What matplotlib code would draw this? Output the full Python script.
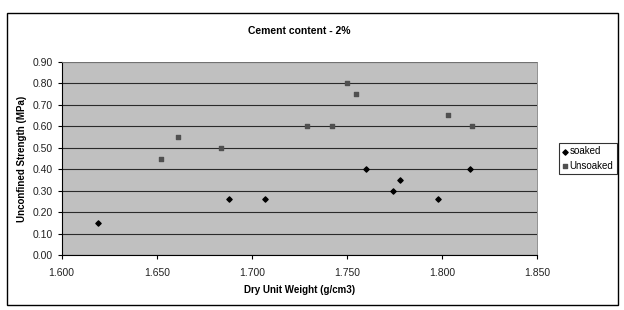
import matplotlib
matplotlib.use("Agg")
import matplotlib.pyplot as plt
from matplotlib.patches import Rectangle
from matplotlib.ticker import FormatStrFormatter

plt.rcParams['font.family'] = ['Liberation Sans', 'DejaVu Sans']

soaked_x = [1.619, 1.688, 1.707, 1.760, 1.778, 1.774, 1.798, 1.815]
soaked_y = [0.15, 0.26, 0.26, 0.40, 0.35, 0.30, 0.26, 0.40]
unsoaked_x = [1.652, 1.661, 1.684, 1.729, 1.742, 1.750, 1.755, 1.803, 1.816]
unsoaked_y = [0.45, 0.55, 0.50, 0.60, 0.60, 0.80, 0.75, 0.65, 0.60]
x_ticks = [1.600, 1.650, 1.700, 1.750, 1.800, 1.850]
y_ticks = [0.00, 0.10, 0.20, 0.30, 0.40, 0.50, 0.60, 0.70, 0.80, 0.90]

fig = plt.figure(figsize=(6.24, 3.10), dpi=100)
W, H = 624, 310
fig.patches.append(Rectangle((7/W, 5/H), 611/W, 292/H, transform=fig.transFigure,
                             fill=False, edgecolor='black', linewidth=1.0))

ax = fig.add_axes([61.7/W, 1-255.3/H, (537-61.7)/W, (255.3-61.7)/H])
ax.set_facecolor('#c0c0c0')
ax.set_xlim(1.600, 1.850)
ax.set_ylim(0.0, 0.90)
ax.set_xticks(x_ticks)
ax.set_yticks(y_ticks)
ax.xaxis.set_major_formatter(FormatStrFormatter('%.3f'))
ax.yaxis.set_major_formatter(FormatStrFormatter('%.2f'))
ax.grid(axis='y', color='#2a2a2a', linewidth=0.8)
ax.set_axisbelow(True)
for s in ['top', 'right']:
    ax.spines[s].set_color('#808080')
    ax.spines[s].set_linewidth(0.6)
for s in ['left', 'bottom']:
    ax.spines[s].set_color('black')
    ax.spines[s].set_linewidth(0.8)
ax.tick_params(axis='both', labelsize=7.5, length=3, width=0.8, direction='out', labelcolor='#222222')
ax.tick_params(axis='x', pad=6)

ax.scatter(soaked_x, soaked_y, marker='D', s=7, color='black', label='soaked', zorder=3)
ax.scatter(unsoaked_x, unsoaked_y, marker='s', s=8, color='#505050', label='Unsoaked', zorder=3)

ax.set_title('Cement content - 2%', fontsize=7.5, fontweight='bold', pad=20)
ax.set_xlabel('Dry Unit Weight (g/cm3)', fontsize=7, fontweight='bold', labelpad=5)
ax.set_ylabel('Unconfined Strength (MPa)', fontsize=7, fontweight='bold', labelpad=4)

leg = ax.legend(loc='center left', bbox_to_anchor=(1.046, 0.50), fontsize=7,
                frameon=True, fancybox=False, edgecolor='black', handlelength=0.5,
                handletextpad=0.25, borderpad=0.35, labelspacing=0.5, borderaxespad=0)
leg.get_frame().set_linewidth(0.8)

fig.savefig('out.png', dpi=100)
